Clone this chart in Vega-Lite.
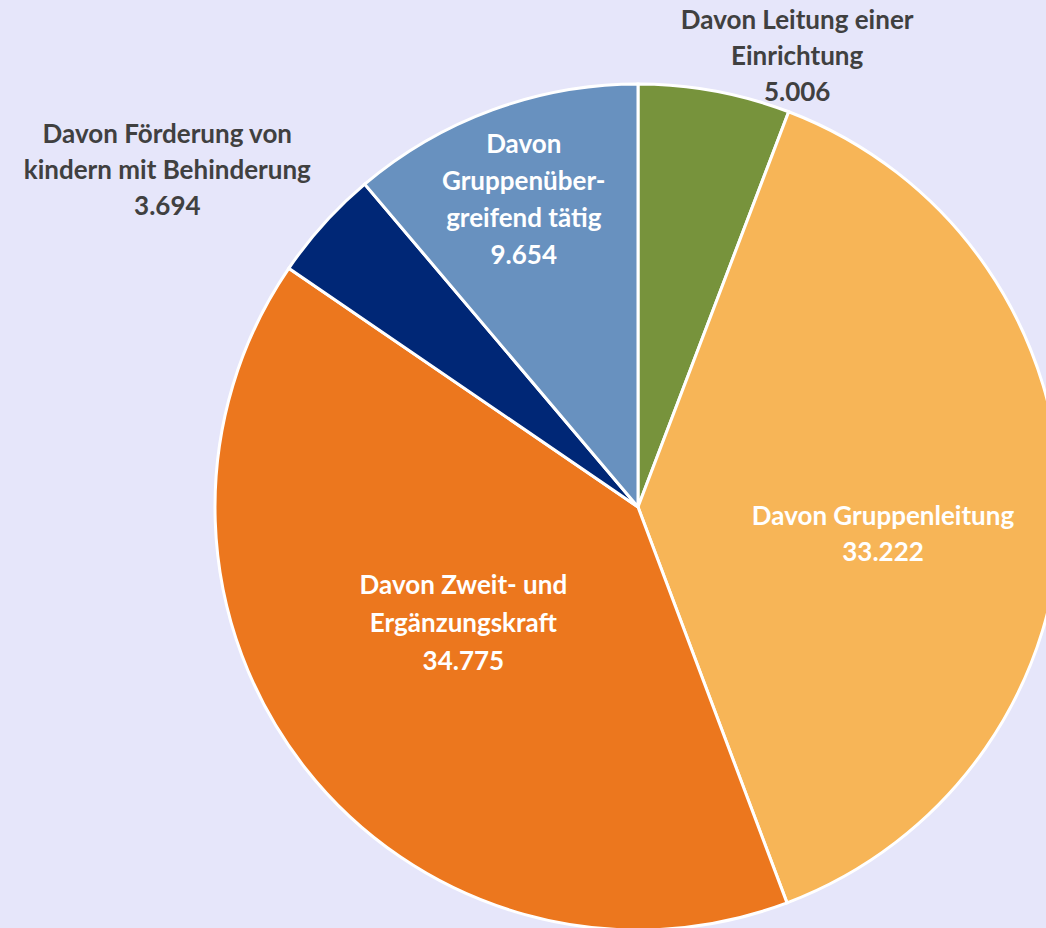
{
  "$schema": "https://vega.github.io/schema/vega-lite/v6.json",
  "width": 816,
  "height": 842,
  "autosize": "none",
  "padding": {"left": 230, "top": 86, "right": 0, "bottom": 0},
  "background": "#E6E6FA",
  "config": {"view": {"stroke": null}},
  "data": {
    "values": [
      {"order": 1, "cat": "Leitung", "label": "Davon Leitung einer\nEinrichtung\n5.006", "value": 5.006},
      {"order": 2, "cat": "Gruppenleitung", "label": "Davon Gruppenleitung\n33.222", "value": 33.222},
      {"order": 3, "cat": "Zweit", "label": "Davon Zweit- und\nErgänzungskraft\n34.775", "value": 34.775},
      {"order": 4, "cat": "Foerderung", "label": "Davon Förderung von\nkindern mit Behinderung\n3.694", "value": 3.694},
      {"order": 5, "cat": "Gruppenuebergreifend", "label": "Davon\nGruppenüber-\ngreifend tätig\n9.654", "value": 9.654}
    ]
  },
  "encoding": {
    "theta": {"field": "value", "type": "quantitative", "stack": true},
    "order": {"field": "order", "type": "quantitative"}
  },
  "layer": [
    {
      "mark": {"type": "arc", "radius": 423, "stroke": "white", "strokeWidth": 3},
      "encoding": {
        "color": {
          "field": "cat",
          "type": "nominal",
          "scale": {
            "domain": ["Leitung", "Gruppenleitung", "Zweit", "Foerderung", "Gruppenuebergreifend"],
            "range": ["#77933C", "#F7B557", "#EC771E", "#002776", "#6891BF"]
          },
          "legend": null
        }
      }
    },
    {
      "mark": {"type": "text", "radius": 245, "dy": 9, "font": "Lato", "fontWeight": "bold", "fontSize": 26, "lineHeight": 36, "lineBreak": "\n", "align": "center", "baseline": "middle", "color": "white"},
      "encoding": {"text": {"condition": {"test": "datum.cat === 'Gruppenleitung'", "field": "label"}, "value": ""}}
    },
    {
      "mark": {"type": "text", "radius": 222, "dy": -58, "font": "Lato", "fontWeight": "bold", "fontSize": 26, "lineHeight": 38, "lineBreak": "\n", "align": "center", "baseline": "middle", "color": "white"},
      "encoding": {"text": {"condition": {"test": "datum.cat === 'Zweit'", "field": "label"}, "value": ""}}
    },
    {
      "mark": {"type": "text", "radius": 332, "dy": -50, "font": "Lato", "fontWeight": "bold", "fontSize": 26, "lineHeight": 37, "lineBreak": "\n", "align": "center", "baseline": "middle", "color": "white"},
      "encoding": {"text": {"condition": {"test": "datum.cat === 'Gruppenuebergreifend'", "field": "label"}, "value": ""}}
    },
    {
      "mark": {"type": "text", "radius": 459, "dx": 76, "dy": -35, "font": "Lato", "fontWeight": "bold", "fontSize": 26, "lineHeight": 36, "lineBreak": "\n", "align": "center", "baseline": "middle", "color": "#404040"},
      "encoding": {"text": {"condition": {"test": "datum.cat === 'Leitung'", "field": "label"}, "value": ""}}
    },
    {
      "mark": {"type": "text", "radius": 510, "dx": -92, "dy": -30, "font": "Lato", "fontWeight": "bold", "fontSize": 26, "lineHeight": 36, "lineBreak": "\n", "align": "center", "baseline": "middle", "color": "#404040"},
      "encoding": {"text": {"condition": {"test": "datum.cat === 'Foerderung'", "field": "label"}, "value": ""}}
    }
  ]
}
